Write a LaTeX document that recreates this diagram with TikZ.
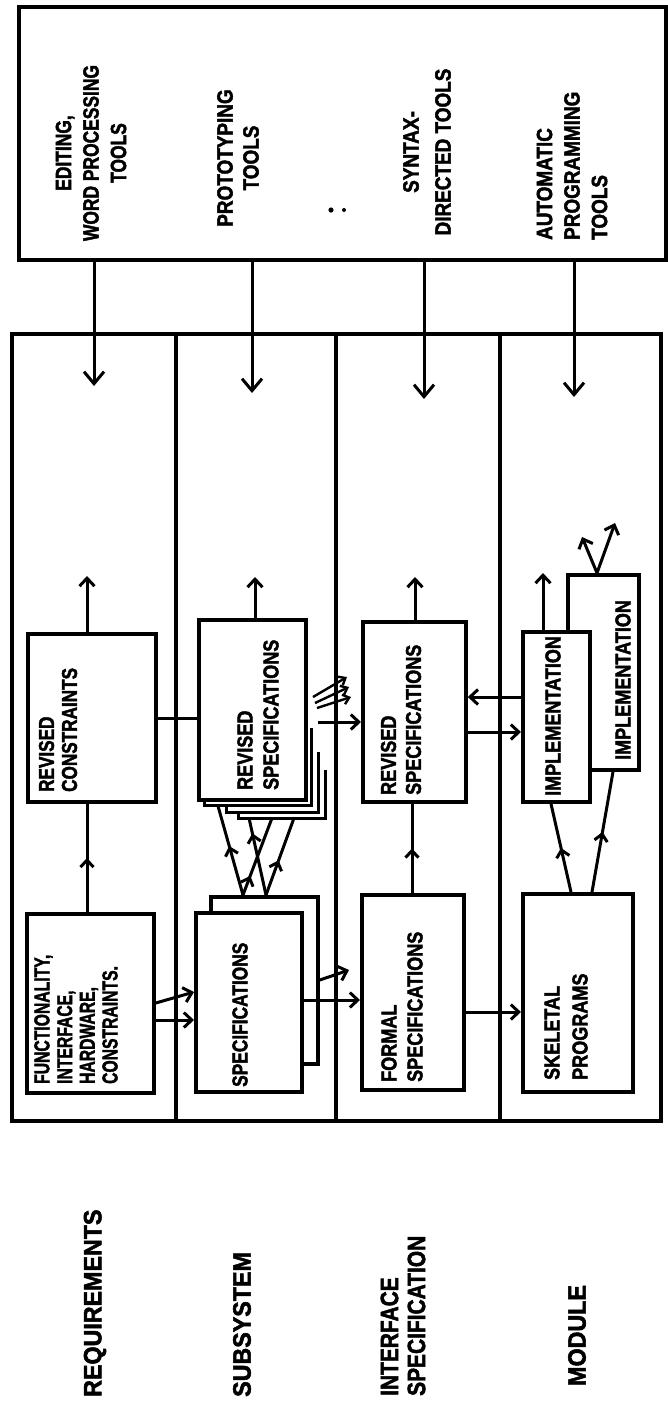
\documentclass[tikz,border=0pt]{standalone}
\usepackage{fontspec}
\setmainfont{Liberation Sans}[BoldFeatures={FakeBold=2.2}]
\usetikzlibrary{arrows.meta,decorations.markings,calc}
\begin{document}
\begin{tikzpicture}[x=1pt,y=-1pt,
  box/.style={draw, line width=3.8pt, fill=white, inner sep=0pt, anchor=north west},
  frame/.style={draw, line width=3.8pt, inner sep=0pt, anchor=north west},
  frameline/.style={line width=3.4pt},
  txt/.style={rotate=90, inner sep=0pt, xscale=0.84, font=\fontsize{21.5}{25}\selectfont\bfseries, align=left, anchor=west},
  tooltxt/.style={rotate=90, inner sep=0pt, xscale=0.86, font=\fontsize{22}{27.5}\selectfont\bfseries, align=center},
  lanetxt/.style={rotate=90, inner sep=0pt, xscale=0.93, font=\fontsize{25}{27}\selectfont\bfseries, align=left, anchor=west},
  ln/.style={line width=3pt},
  arr/.style={line width=3pt, -{Straight Barb[length=8pt,width=15pt]}},
  smallarr/.style={line width=2.4pt, -{Straight Barb[length=6pt,width=10pt]}},
  toolarr/.style={line width=3pt, -{Straight Barb[length=12pt,width=20pt]}},
  midarr/.style={line width=3pt, postaction={decorate},
    decoration={markings, mark=at position #1 with {\arrow{Straight Barb[length=7pt,width=13pt]}}}},
  midarr/.default=0.5
]
\useasboundingbox (0,0) rectangle (667,1409);

% ---------- tools box ----------
\node[frame, minimum width=647pt, minimum height=253pt] (tb) at (17,5) {};
\node[tooltxt, xscale=0.92] (t1) at (91,153) {EDITING,\\WORD PROCESSING\\TOOLS};
\node[tooltxt, font=\fontsize{22}{26}\selectfont\bfseries] (t2) at (238,158) {PROTOTYPING\\TOOLS};
\node[tooltxt, font=\fontsize{22}{32}\selectfont\bfseries] (t3) at (427,152) {SYNTAX-\\DIRECTED TOOLS};
\node[tooltxt, align=left, anchor=west] (t4) at (572,240) {AUTOMATIC\\PROGRAMMING\\TOOLS};
\fill (331,210) circle (2.6);
\fill (344,210) circle (2.0);

% ---------- main box and lanes ----------
\node[frame, minimum width=649pt, minimum height=787pt] (main) at (10,332) {};
\coordinate (d1) at (176,0);
\coordinate (d2) at (336,0);
\coordinate (d3) at (500,0);
\draw[frameline] (main.north -| d1) -- (main.south -| d1);
\draw[frameline] (main.north -| d2) -- (main.south -| d2);
\draw[frameline] (main.north -| d3) -- (main.south -| d3);

% tool arrows
\coordinate (a1) at (94,386);
\coordinate (a2) at (252,393);
\coordinate (a3) at (424,399);
\coordinate (a4) at (574,397);
\draw[toolarr] (tb.south -| a1) -- (a1);
\draw[toolarr] (tb.south -| a2) -- (a2);
\draw[toolarr] (tb.south -| a3) -- (a3);
\draw[toolarr] (tb.south -| a4) -- (a4);

% lane labels
\node[lanetxt] (l1) at (95,1397) {REQUIREMENTS};
\node[lanetxt] (l2) at (242,1397) {SUBSYSTEM};
\node[lanetxt, xscale=0.9] (l3) at (403,1396) {INTERFACE\\SPECIFICATION};
\node[lanetxt] (l4) at (577,1386) {MODULE};

% ---------- lane 1 ----------
\node[box, minimum width=127pt, minimum height=179pt] (fun) at (25,912) {};
\node[txt, xscale=0.87, font=\fontsize{21.5}{22.7}\selectfont\bfseries] (funT) at (76,1084) {FUNCTIONALITY,\\INTERFACE,\\HARDWARE,\\CONSTRAINTS.};
\node[box, minimum width=128pt, minimum height=168pt] (rc) at (26,632) {};
\node[txt, xscale=0.95, font=\fontsize{21.5}{23}\selectfont\bfseries] (rcT) at (58,792) {REVISED\\CONSTRAINTS};

% ---------- lane 2 ----------
% stacked pages behind revised specifications
\draw[ln] (204,798) -- (204,805) -- (311,805) -- (311,728);
\draw[ln] (226,805) -- (226,812) -- (318,812) -- (318,752);
\draw[ln] (238,812) -- (238,818) -- (325,818) -- (325,770);
\node[box, minimum width=107pt, minimum height=180pt] (rs2) at (197,618) {};
\node[txt, font=\fontsize{21.5}{26}\selectfont\bfseries] (rs2T) at (258,790) {REVISED\\SPECIFICATIONS};
\node[box, minimum width=107pt, minimum height=167pt] (specB) at (209,895) {};
\node[box, minimum width=106pt, minimum height=179pt] (spec) at (194,911) {};
\node[txt, xscale=0.96] (specT) at (240,1087) {SPECIFICATIONS};

% ---------- lane 3 ----------
\node[box, minimum width=103pt, minimum height=180pt] (rs3) at (361,620) {};
\node[txt] (rs3T) at (401,795) {REVISED\\SPECIFICATIONS};
\node[box, minimum width=102pt, minimum height=195pt] (fs) at (360,893) {};
\node[txt, font=\fontsize{21.5}{26}\selectfont\bfseries] (fsT) at (402,1082) {FORMAL\\SPECIFICATIONS};

% ---------- lane 4 ----------
\node[box, minimum width=110pt, minimum height=198pt] (sk) at (521,892) {};
\node[txt, font=\fontsize{21.5}{28}\selectfont\bfseries] (skT) at (566,1080) {SKELETAL\\PROGRAMS};
\node[box, minimum width=71pt, minimum height=195pt] (implB) at (566,573) {};
\node[txt, anchor=center] (implBT) at (623,680) {IMPLEMENTATION};
\node[box, minimum width=67pt, minimum height=170pt] (impl) at (521,630) {};
\node[txt, anchor=center] (implT) at (553,716) {IMPLEMENTATION};

% ---------- connectors ----------
% lane 1
\coordinate (rcO) at (87,576);
\draw[midarr=0.5] (fun.north -| rcO) -- (rc.south -| rcO);
\draw[arr] (rc.north -| rcO) -- (rcO);
\coordinate (h1) at (0,718);
\draw[ln] (rc.east |- h1) -- (rs2.west |- h1);
\coordinate (fa) at (0,1003);
\coordinate (fb) at (0,992);
\coordinate (fc) at (0,1020);
\draw[arr] (fun.east |- fa) -- (spec.west |- fb);
\draw[arr] (fun.east |- fc) -- (spec.west |- fc);

% lane 2
\coordinate (rs2O) at (255,577);
\draw[arr] (rs2.north -| rs2O) -- (rs2O);
\coordinate (c1) at (243,895);
\coordinate (c2) at (266,895);
\coordinate (e1) at (218,806);
\coordinate (e2) at (272,818);
\coordinate (e3) at (249,818);
\coordinate (e4) at (294,818);
\draw[midarr=0.55] (c1) -- (e1);
\draw[midarr=0.25] (c1) -- (e2);
\draw[midarr=0.8] (c2) -- (e3);
\draw[midarr=0.45] (c2) -- (e4);
\coordinate (sa) at (0,1000);
\draw[arr] (spec.east |- sa) -- (fs.west |- sa);
\coordinate (sb0) at (0,980);
\coordinate (sbE) at (349,970);
\draw[arr] (specB.east |- sb0) -- (sbE);
\coordinate (rsS) at (318,722);
\draw[arr] (rsS) -- (rs3.west |- rsS);
\coordinate (q1a) at (313,697);
\coordinate (q1b) at (347,677);
\coordinate (q2a) at (315,703);
\coordinate (q2b) at (349,687);
\coordinate (q3a) at (317,708);
\coordinate (q3b) at (351,697);
\draw[smallarr] (q1a) -- (q1b);
\draw[smallarr] (q2a) -- (q2b);
\draw[smallarr] (q3a) -- (q3b);

% lane 3
\coordinate (rs3O) at (415,577);
\draw[arr] (rs3.north -| rs3O) -- (rs3O);
\coordinate (fx) at (412,0);
\draw[midarr=0.5] (fs.north -| fx) -- (rs3.south -| fx);
\coordinate (fk) at (0,1012);
\draw[arr] (fs.east |- fk) -- (sk.west |- fk);
\coordinate (y697) at (0,697);
\coordinate (y732) at (0,732);
\draw[arr] (impl.west |- y697) -- (rs3.east |- y697);
\draw[arr] (rs3.east |- y732) -- (impl.west |- y732);

% lane 4
\coordinate (k1) at (571,0);
\coordinate (k1e) at (551,0);
\coordinate (k2) at (592,0);
\coordinate (k2e) at (613,0);
\draw[midarr=0.5] (sk.north -| k1) -- (impl.south -| k1e);
\draw[midarr=0.5] (sk.north -| k2) -- (implB.south -| k2e);
\coordinate (implO) at (543,573);
\draw[arr] (impl.north -| implO) -- (implO);
\coordinate (ib0) at (597,0);
\coordinate (iA) at (582,537);
\coordinate (iB) at (615,523);
\draw[arr] (implB.north -| ib0) -- (iA);
\draw[arr] (implB.north -| ib0) -- (iB);
\end{tikzpicture}
\end{document}
